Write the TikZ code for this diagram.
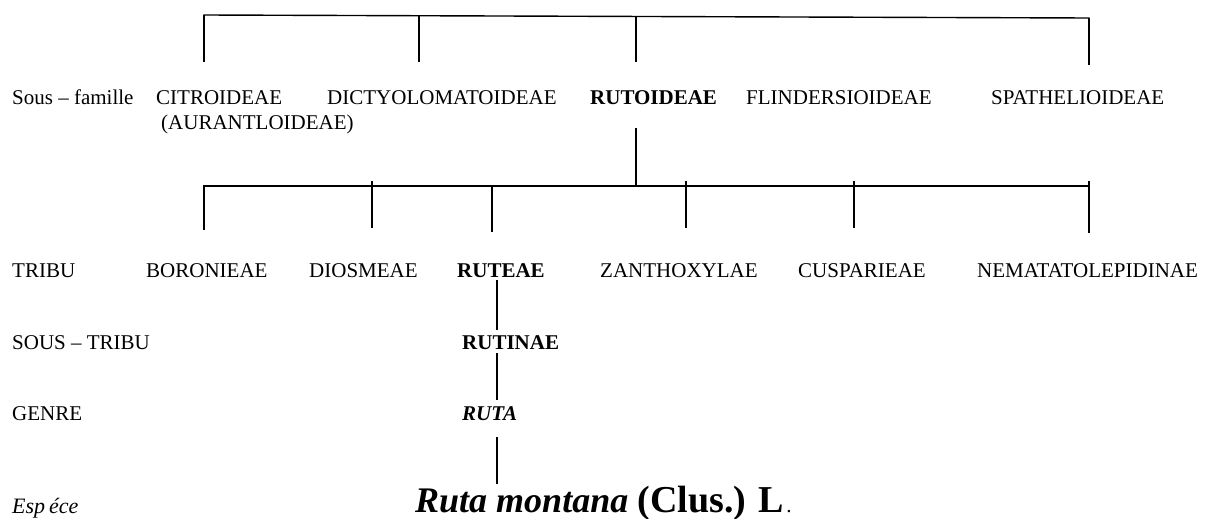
\documentclass[tikz,border=0pt]{standalone}
\usepackage{fontspec}
\setmainfont{Liberation Serif}
\begin{document}
\begin{tikzpicture}[x=1pt, y=-1pt,
  lbl/.style={anchor=base west, inner sep=0pt, font=\fontsize{21}{25}\selectfont},
  lblb/.style={lbl, font=\fontsize{21}{25}\selectfont\bfseries},
  lbli/.style={lbl, font=\fontsize{21}{25}\selectfont\itshape\bfseries},
  bar/.style={line width=1.4pt, line cap=rect},
  stem/.style={line width=1.4pt}]
\useasboundingbox (0,0) rectangle (1210,519);

% ---- rank labels (left column)
\node[lbl] (sf)    at (12,104) {Sous – famille};
\node[lbl] (tribu) at (12,277) {TRIBU};
\node[lbl] (stri)  at (12,349) {SOUS – TRIBU};
\node[lbl] (genre) at (12,420) {GENRE};
\node[lbl, font=\fontsize{22}{26}\selectfont\itshape] (esp) at (12,513) {Esp\hspace{4pt}éce};

% ---- sub-families
\node[lbl]  (citro) at (156,104) {CITROIDEAE};
\node[lbl]  (auran) at (161,129) {(AURANTLOIDEAE)};
\node[lbl]  (dicty) at (327,104) {DICTYOLOMATOIDEAE};
\node[lblb] (ruto)  at (590,104) {RUTOIDEAE};
\node[lbl]  (flin)  at (746,104) {FLINDERSIOIDEAE};
\node[lbl]  (spat)  at (991,104) {SPATHELIOIDEAE};

% ---- tribes
\node[lbl]  (boro) at (146,277) {BORONIEAE};
\node[lbl]  (dios) at (309,277) {DIOSMEAE};
\node[lblb] (rute) at (457,277) {RUTEAE};
\node[lbl]  (zant) at (600,277) {ZANTHOXYLAE};
\node[lbl]  (cusp) at (798,277) {CUSPARIEAE};
\node[lbl]  (nema) at (977,277) {NEMATATOLEPIDINAE};

% ---- sub-tribe, genus, species
\node[lblb] (ruti) at (462,349) {RUTINAE};
\node[lbli] (ruta) at (462,420) {RUTA};
\node[lbl]  (spec) at (415,512)
  {{\fontsize{36}{40}\selectfont\bfseries\itshape Ruta montana}\hspace{4pt}
   {\fontsize{38}{42}\selectfont\bfseries (Clus.) L}\hspace{2pt}{\fontsize{21}{25}\selectfont.}};

% ---- upper bracket (sub-families)
\coordinate (ul) at (204,15);
\coordinate (ur) at (1089,18);
\draw[bar] (ul) -- (ur);
\coordinate (u1) at (204,62);
\coordinate (u2a) at (419,15.7);  \coordinate (u2) at (419,62);
\coordinate (u3a) at (636,16.5);  \coordinate (u3) at (636,62);
\coordinate (u4) at (1089,65);
\draw[stem] (ul) -- (u1);
\draw[stem] (u2a) -- (u2);
\draw[stem] (u3a) -- (u3);
\draw[stem] (ur) -- (u4);

% ---- stem from RUTOIDEAE to the tribe bracket
\coordinate (rs) at (636,128);
\coordinate (rb) at (636,186);
\draw[stem] (rs) -- (rb);

% ---- lower bracket (tribes)
\coordinate (ll) at (204,186);
\coordinate (lr) at (1089,186);
\draw[bar] (ll) -- (lr);
\coordinate (l1) at (204,230);
\coordinate (l2a) at (372,181);  \coordinate (l2) at (372,228);
\coordinate (l3a) at (492,186);  \coordinate (l3) at (492,232);
\coordinate (l4a) at (686,181);  \coordinate (l4) at (686,228);
\coordinate (l5a) at (854,181);  \coordinate (l5) at (854,228);
\coordinate (l6a) at (1089,181); \coordinate (l6) at (1089,233);
\draw[stem] (ll) -- (l1);
\draw[stem] (l2a) -- (l2);
\draw[stem] (l3a) -- (l3);
\draw[stem] (l4a) -- (l4);
\draw[stem] (l5a) -- (l5);
\draw[stem] (l6a) -- (l6);

% ---- single line of descent down to the species
\coordinate (s1a) at (497,280); \coordinate (s1b) at (497,330);
\coordinate (s2a) at (497,353); \coordinate (s2b) at (497,400);
\coordinate (s3a) at (497,437); \coordinate (s3b) at (497,484);
\draw[stem] (s1a) -- (s1b);
\draw[stem] (s2a) -- (s2b);
\draw[stem] (s3a) -- (s3b);
\end{tikzpicture}
\end{document}
